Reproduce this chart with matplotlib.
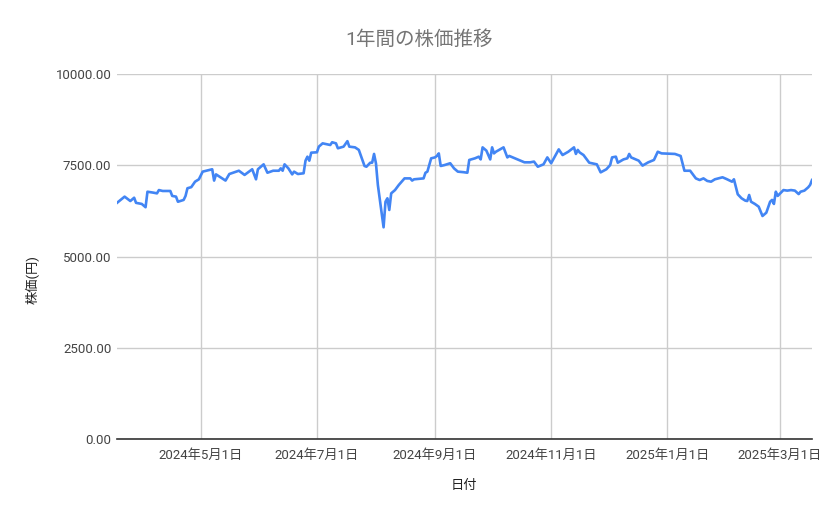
import matplotlib
matplotlib.use("Agg")
import matplotlib.pyplot as plt
import matplotlib.dates as mdates
from matplotlib.ticker import FuncFormatter
import pandas as pd

plt.rcParams["font.family"] = ["Roboto", "Noto Sans CJK JP", "DejaVu Sans"]

TITLE = "1年間の株価推移"
X_LABEL = "日付"
Y_LABEL = "株価(円)"

# values
dates = [
    "2024-03-18", "2024-03-22", "2024-03-25", "2024-03-27", "2024-03-28", "2024-03-31",
    "2024-04-02", "2024-04-03", "2024-04-06", "2024-04-08", "2024-04-09", "2024-04-11",
    "2024-04-15", "2024-04-16", "2024-04-18", "2024-04-19", "2024-04-22", "2024-04-23",
    "2024-04-24", "2024-04-26", "2024-04-28", "2024-04-30", "2024-05-02", "2024-05-07",
    "2024-05-08", "2024-05-09", "2024-05-14", "2024-05-16", "2024-05-18", "2024-05-21",
    "2024-05-24", "2024-05-28", "2024-05-30", "2024-05-31", "2024-06-03", "2024-06-05",
    "2024-06-08", "2024-06-11", "2024-06-12", "2024-06-13", "2024-06-14", "2024-06-16",
    "2024-06-18", "2024-06-19", "2024-06-21", "2024-06-24", "2024-06-25", "2024-06-26",
    "2024-06-27", "2024-06-28", "2024-07-01", "2024-07-02", "2024-07-04", "2024-07-08",
    "2024-07-09", "2024-07-11", "2024-07-12", "2024-07-15", "2024-07-17", "2024-07-18",
    "2024-07-21", "2024-07-23", "2024-07-26", "2024-07-27", "2024-07-29", "2024-07-30",
    "2024-07-31", "2024-08-01", "2024-08-02", "2024-08-05", "2024-08-06", "2024-08-07",
    "2024-08-08", "2024-08-09", "2024-08-11", "2024-08-13", "2024-08-16", "2024-08-19",
    "2024-08-20", "2024-08-21", "2024-08-26", "2024-08-27", "2024-08-28", "2024-08-30",
    "2024-09-01", "2024-09-02", "2024-09-03", "2024-09-04", "2024-09-06", "2024-09-09",
    "2024-09-11", "2024-09-13", "2024-09-16", "2024-09-18", "2024-09-19", "2024-09-22",
    "2024-09-24", "2024-09-25", "2024-09-26", "2024-09-28", "2024-09-30", "2024-10-01",
    "2024-10-02", "2024-10-03", "2024-10-07", "2024-10-09", "2024-10-10", "2024-10-13",
    "2024-10-15", "2024-10-18", "2024-10-21", "2024-10-23", "2024-10-25", "2024-10-28",
    "2024-10-30", "2024-11-01", "2024-11-05", "2024-11-07", "2024-11-10", "2024-11-13",
    "2024-11-14", "2024-11-15", "2024-11-16", "2024-11-18", "2024-11-21", "2024-11-25",
    "2024-11-27", "2024-11-30", "2024-12-02", "2024-12-03", "2024-12-05", "2024-12-06",
    "2024-12-09", "2024-12-11", "2024-12-12", "2024-12-13", "2024-12-17", "2024-12-19",
    "2024-12-22", "2024-12-25", "2024-12-27", "2024-12-29", "2025-01-05", "2025-01-08",
    "2025-01-10", "2025-01-13", "2025-01-16", "2025-01-18", "2025-01-20", "2025-01-22",
    "2025-01-24", "2025-01-26", "2025-01-30", "2025-02-01", "2025-02-04", "2025-02-05",
    "2025-02-07", "2025-02-09", "2025-02-11", "2025-02-12", "2025-02-13", "2025-02-14",
    "2025-02-16", "2025-02-18", "2025-02-20", "2025-02-22", "2025-02-24", "2025-02-25",
    "2025-02-26", "2025-02-27", "2025-02-28", "2025-03-03", "2025-03-05", "2025-03-07",
    "2025-03-09", "2025-03-11", "2025-03-12", "2025-03-14", "2025-03-16", "2025-03-17",
    "2025-03-18",
]
prices = [
    6470, 6640, 6520, 6610, 6470, 6440,
    6350, 6775, 6750, 6730, 6820, 6795,
    6795, 6660, 6640, 6500, 6550, 6660,
    6870, 6900, 7050, 7115, 7325, 7390,
    7080, 7250, 7080, 7260, 7295, 7350,
    7235, 7390, 7115, 7390, 7525, 7295,
    7350, 7350, 7415, 7350, 7525, 7415,
    7250, 7325, 7260, 7280, 7625, 7735,
    7625, 7845, 7855, 8010, 8100, 8055,
    8130, 8100, 7965, 8010, 8160, 8010,
    7990, 7920, 7480, 7460, 7570, 7570,
    7810, 7550, 6960, 5800, 6500, 6595,
    6275, 6730, 6820, 6960, 7140, 7140,
    7080, 7115, 7140, 7295, 7325, 7690,
    7715, 7755, 7825, 7480, 7505, 7555,
    7415, 7325, 7310, 7295, 7645, 7690,
    7735, 7660, 7990, 7900, 7660, 7990,
    7825, 7870, 7990, 7715, 7755, 7690,
    7645, 7580, 7580, 7600, 7460, 7525,
    7715, 7555, 7935, 7780, 7870, 7990,
    7810, 7920, 7850, 7780, 7570, 7525,
    7305, 7390, 7505, 7715, 7735, 7570,
    7660, 7690, 7810, 7715, 7625, 7490,
    7580, 7645, 7870, 7825, 7810, 7755,
    7350, 7350, 7140, 7095, 7140, 7070,
    7050, 7115, 7170, 7125, 7050, 7115,
    6705, 6595, 6530, 6520, 6685, 6500,
    6440, 6365, 6110, 6200, 6500, 6550,
    6440, 6775, 6660, 6820, 6805, 6820,
    6805, 6710, 6775, 6805, 6895, 6960,
    7095,
]
y_ticks = [0, 2500, 5000, 7500, 10000]
x_start = "2024-03-18"
x_end = "2025-03-18"

LINE_COLOR = "#4285F4"
GRID_COLOR = "#cccccc"
TICK_COLOR = "#444444"

x = pd.to_datetime(dates)

fig = plt.figure(figsize=(8.39, 5.19), dpi=100)
ax = fig.add_axes([117 / 839, 1 - 439 / 519, 695 / 839, 365 / 519])

ax.plot(x, prices, color=LINE_COLOR, linewidth=1.9, solid_joinstyle="round", zorder=3)

ax.set_xlim(pd.Timestamp(x_start), pd.Timestamp(x_end))
ax.set_ylim(y_ticks[0], y_ticks[-1])
ax.set_yticks(y_ticks)
ax.yaxis.set_major_formatter(FuncFormatter(lambda v, _: f"{v:.2f}"))

ax.xaxis.set_major_locator(mdates.MonthLocator(bymonth=[1, 3, 5, 7, 9, 11]))
ax.xaxis.set_major_formatter(
    FuncFormatter(lambda v, _: (lambda d: f"{d.year}年{d.month}月{d.day}日")(mdates.num2date(v)))
)

ax.grid(True, color=GRID_COLOR, linewidth=1)
ax.set_axisbelow(True)
for side in ("top", "right", "left"):
    ax.spines[side].set_visible(False)
ax.spines["bottom"].set_color("#333333")
ax.spines["bottom"].set_linewidth(1.2)
ax.spines["bottom"].set_zorder(4)

ax.tick_params(axis="both", length=0, labelsize=9.5, labelcolor=TICK_COLOR)
ax.tick_params(axis="x", pad=7)
ax.tick_params(axis="y", pad=4)

fig.text(0.5, 1 - 40 / 519, TITLE, ha="center", va="center", fontsize=14, color="#757575")
fig.text(464 / 839, 1 - 486 / 519, X_LABEL, ha="center", va="center", fontsize=9.5, color="#222222")
fig.text(33 / 839, 1 - 280 / 519, Y_LABEL, ha="center", va="center", rotation=90,
         fontsize=9.5, color="#222222")

fig.savefig("out.png", dpi=100)
